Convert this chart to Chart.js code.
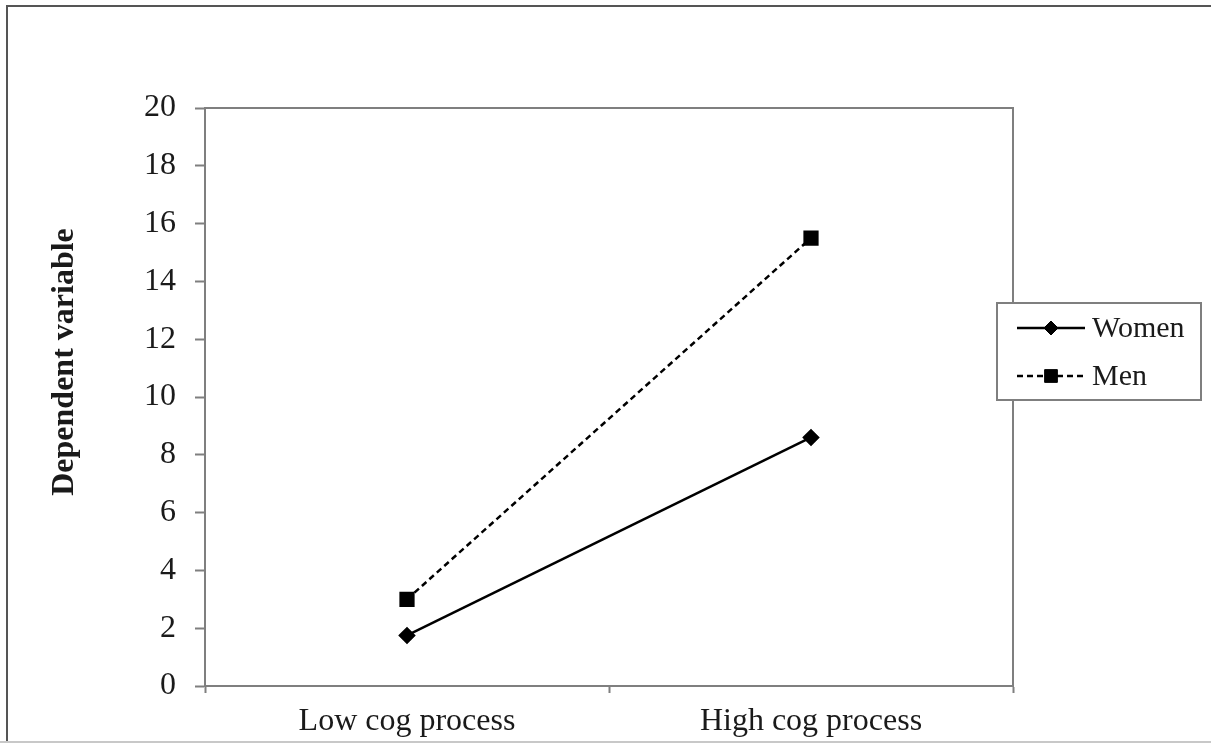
<!DOCTYPE html>
<html>
<head>
<meta charset="utf-8">
<script src="https://cdn.jsdelivr.net/npm/chart.js@4.4.1/dist/chart.umd.min.js"></script>
<style>
  html, body { margin: 0; padding: 0; background: #fff; }
  canvas { display: block; }
</style>
</head>
<body>
<canvas id="c" width="1211" height="743"></canvas>
<script>
const categories = ['Low cog process', 'High cog process'];
const seriesNames = ['Women', 'Men'];
const womenValues = [1.75, 8.6];
const menValues = [3.0, 15.5];
const yMin = 0, yMax = 20, yStep = 2;
const yTitle = 'Dependent variable';

const FONT = "'Liberation Serif', 'Times New Roman', serif";
const AXIS_GRAY = '#7f7f7f';
const TEXT = '#1a1a1a';

const framePlugin = {
  id: 'frame',
  beforeDatasetsDraw(chart) {
    const { ctx, chartArea: a } = chart;
    ctx.save();
    // outer picture frame
    ctx.strokeStyle = '#555';
    ctx.lineWidth = 2;
    ctx.beginPath();
    ctx.moveTo(7, 743); ctx.lineTo(7, 6); ctx.lineTo(1211, 6);
    ctx.stroke();
    ctx.strokeStyle = '#c8c8c8';
    ctx.beginPath();
    ctx.moveTo(0, 742); ctx.lineTo(1211, 742);
    ctx.stroke();
    // plot area top and right borders
    ctx.strokeStyle = AXIS_GRAY;
    ctx.lineWidth = 2;
    ctx.beginPath();
    ctx.moveTo(a.left, a.top); ctx.lineTo(a.right, a.top); ctx.lineTo(a.right, a.bottom);
    ctx.stroke();
    // y axis title
    ctx.translate(65, 362);
    ctx.rotate(-Math.PI / 2);
    ctx.font = 'bold 32px ' + FONT;
    ctx.fillStyle = TEXT;
    ctx.textAlign = 'center';
    ctx.textBaseline = 'middle';
    ctx.fillText(yTitle, 0, 0);
    ctx.restore();
  },
  afterDraw(chart) {
    const { ctx } = chart;
    const bx = 997, by = 303, bw = 204, bh = 97;
    ctx.save();
    ctx.fillStyle = '#fff';
    ctx.fillRect(bx, by, bw, bh);
    ctx.strokeStyle = AXIS_GRAY;
    ctx.lineWidth = 2;
    ctx.strokeRect(bx, by, bw, bh);
    const rows = [by + 25, by + 73];
    chart.data.datasets.forEach((ds, i) => {
      const y = rows[i];
      ctx.strokeStyle = '#000';
      ctx.fillStyle = '#000';
      ctx.lineWidth = 2.5;
      ctx.setLineDash(ds.borderDash || []);
      ctx.beginPath();
      ctx.moveTo(bx + 20, y); ctx.lineTo(bx + 88, y);
      ctx.stroke();
      ctx.setLineDash([]);
      ctx.lineWidth = 1;
      Chart.helpers.drawPoint(ctx, { pointStyle: ds.pointStyle, radius: ds.pointRadius, borderWidth: 1 }, bx + 54, y);
      ctx.font = '30px ' + FONT;
      ctx.textBaseline = 'middle';
      ctx.textAlign = 'left';
      ctx.fillStyle = TEXT;
      ctx.fillText(ds.label, bx + 95, y + 1);
    });
    ctx.restore();
  }
};

new Chart(document.getElementById('c'), {
  type: 'line',
  data: {
    labels: categories,
    datasets: [
      {
        label: seriesNames[0],
        data: womenValues,
        borderColor: '#000',
        backgroundColor: '#000',
        borderWidth: 2.5,
        pointStyle: 'rectRot',
        pointRadius: 7,
        pointHoverRadius: 7,
        pointBackgroundColor: '#000',
        pointBorderColor: '#000',
        tension: 0
      },
      {
        label: seriesNames[1],
        data: menValues,
        borderColor: '#000',
        backgroundColor: '#000',
        borderWidth: 2.5,
        borderDash: [6, 4],
        pointStyle: 'rect',
        pointRadius: 9,
        pointHoverRadius: 9,
        pointBackgroundColor: '#000',
        pointBorderColor: '#000',
        tension: 0
      }
    ]
  },
  options: {
    responsive: false,
    animation: false,
    events: [],
    layout: { padding: { left: 0, top: 108, right: 198, bottom: 0 } },
    plugins: {
      legend: { display: false },
      tooltip: { enabled: false },
      title: { display: false }
    },
    scales: {
      x: {
        type: 'category',
        offset: true,
        afterFit(scale) { scale.height = 57; },
        grid: {
          offset: true,
          drawOnChartArea: false,
          drawTicks: true,
          tickLength: 7,
          tickColor: AXIS_GRAY,
          tickWidth: 2
        },
        border: { display: true, color: AXIS_GRAY, width: 2 },
        ticks: {
          color: TEXT,
          font: { family: FONT, size: 32 },
          padding: 9,
          maxRotation: 0
        }
      },
      y: {
        min: yMin,
        max: yMax,
        afterFit(scale) { scale.width = 205; },
        grid: {
          drawOnChartArea: false,
          drawTicks: true,
          tickLength: 10,
          tickColor: AXIS_GRAY,
          tickWidth: 2
        },
        border: { display: true, color: AXIS_GRAY, width: 2 },
        ticks: {
          stepSize: yStep,
          color: TEXT,
          font: { family: FONT, size: 32 },
          padding: 19
        },
        title: { display: false }
      }
    }
  },
  plugins: [framePlugin]
});
</script>
</body>
</html>
